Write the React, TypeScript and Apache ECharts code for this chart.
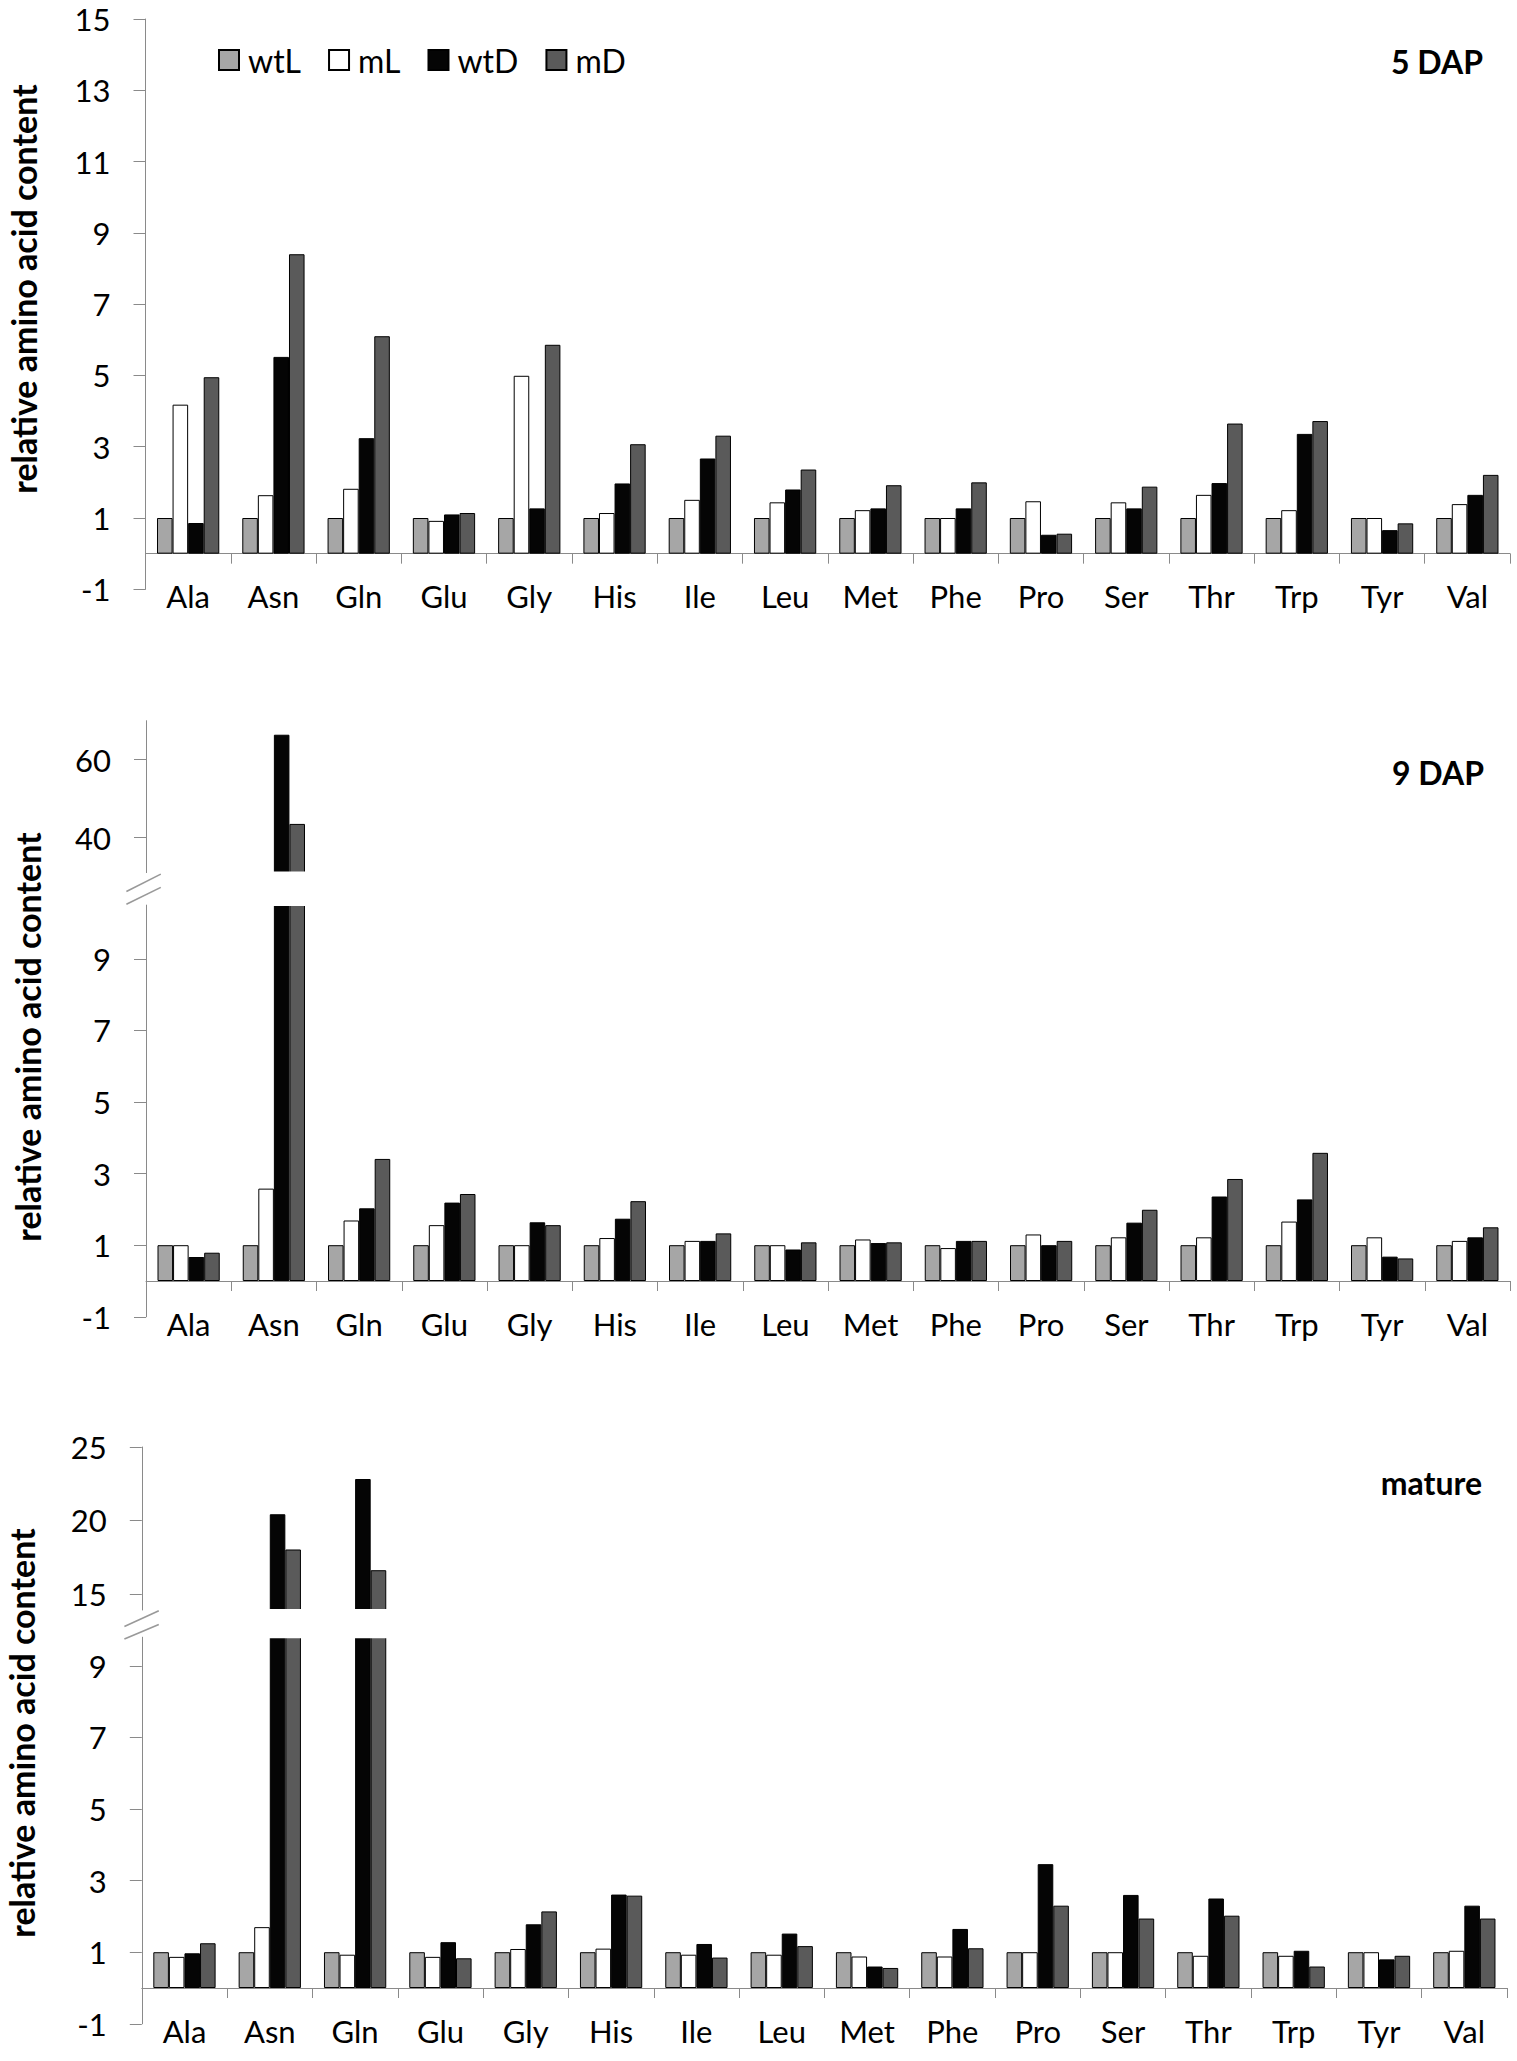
import React, { useEffect, useRef } from "react";
import * as echarts from "echarts";

// ---------- data ----------
const CATEGORIES = ["Ala", "Asn", "Gln", "Glu", "Gly", "His", "Ile", "Leu", "Met", "Phe", "Pro", "Ser", "Thr", "Trp", "Tyr", "Val"];
const SERIES_NAMES = ["wtL", "mL", "wtD", "mD"];
const PANEL_TITLES = ["5 DAP", "9 DAP", "mature"];
const Y_TITLE = "relative amino acid content";

// 5 DAP
const DAP5_WTL = [1, 1, 1, 1, 1, 1, 1, 1, 1, 1, 1, 1, 1, 1, 1, 1];
const DAP5_ML = [4.18, 1.64, 1.82, 0.92, 4.99, 1.14, 1.51, 1.44, 1.22, 1.0, 1.47, 1.44, 1.65, 1.22, 1.0, 1.39];
const DAP5_WTD = [0.86, 5.52, 3.24, 1.1, 1.27, 1.97, 2.67, 1.8, 1.27, 1.27, 0.53, 1.27, 1.98, 3.36, 0.66, 1.65];
const DAP5_MD = [4.95, 8.4, 6.1, 1.14, 5.86, 3.07, 3.31, 2.36, 1.92, 2.0, 0.56, 1.88, 3.65, 3.72, 0.85, 2.21];

// 9 DAP
const DAP9_WTL = [1, 1, 1, 1, 1, 1, 1, 1, 1, 1, 1, 1, 1, 1, 1, 1];
const DAP9_ML = [1.0, 2.58, 1.69, 1.56, 1.0, 1.2, 1.12, 1.0, 1.16, 0.92, 1.3, 1.22, 1.22, 1.66, 1.22, 1.12];
const DAP9_WTD = [0.67, 66.4, 2.03, 2.19, 1.64, 1.74, 1.12, 0.88, 1.06, 1.12, 1.0, 1.63, 2.36, 2.28, 0.68, 1.22];
const DAP9_MD = [0.79, 43.5, 3.41, 2.43, 1.56, 2.23, 1.33, 1.08, 1.08, 1.12, 1.12, 1.99, 2.85, 3.58, 0.63, 1.5];

// mature
const MAT_WTL = [1, 1, 1, 1, 1, 1, 1, 1, 1, 1, 1, 1, 1, 1, 1, 1];
const MAT_ML = [0.87, 1.7, 0.93, 0.87, 1.09, 1.1, 0.93, 0.93, 0.88, 0.88, 1.0, 1.0, 0.9, 0.9, 1.0, 1.04];
const MAT_WTD = [0.97, 20.42, 22.82, 1.28, 1.78, 2.61, 1.23, 1.52, 0.6, 1.65, 3.46, 2.6, 2.5, 1.04, 0.8, 2.3];
const MAT_MD = [1.25, 18.02, 16.61, 0.83, 2.14, 2.58, 0.85, 1.17, 0.56, 1.11, 2.3, 1.94, 2.02, 0.6, 0.9, 1.94];

// tick labels
const TICKS_5DAP = [-1, 1, 3, 5, 7, 9, 11, 13, 15];
const TICKS_LOWER = [-1, 1, 3, 5, 7, 9];
const TICKS_9DAP_UPPER = [40, 60];
const TICKS_MAT_UPPER = [15, 20, 25];

// ---------- style / layout ----------
const W = 1517;
const H = 2061;
const FONT = "Lato, 'Open Sans', sans-serif";
const AXIS_GREY = "#8a8a8a";
const COLORS = ["#a6a6a6", "#ffffff", "#050505", "#5a5a5a"];

type Panel = {
  left: number; right: number; top: number; bottom: number;
  min: number; max: number; ticks: number[]; showX: boolean; series: number[][];
};

const PANELS: Panel[] = [
  { left: 145.5, right: 1510, top: 19, bottom: 589.3, min: -1, max: 15, ticks: TICKS_5DAP, showX: true, series: [DAP5_WTL, DAP5_ML, DAP5_WTD, DAP5_MD] },
  { left: 146, right: 1510, top: 720.7, bottom: 872.6, min: 31, max: 70, ticks: TICKS_9DAP_UPPER, showX: false, series: [DAP9_WTL, DAP9_ML, DAP9_WTD, DAP9_MD] },
  { left: 146, right: 1510, top: 905.1, bottom: 1316.8, min: -1, max: 10.5, ticks: TICKS_LOWER, showX: true, series: [DAP9_WTL, DAP9_ML, DAP9_WTD, DAP9_MD] },
  { left: 141.8, right: 1507, top: 1447, bottom: 1610, min: 13.9, max: 25, ticks: TICKS_MAT_UPPER, showX: false, series: [MAT_WTL, MAT_ML, MAT_WTD, MAT_MD] },
  { left: 141.8, right: 1507, top: 1637.2, bottom: 2023.8, min: -1, max: 9.8, ticks: TICKS_LOWER, showX: true, series: [MAT_WTL, MAT_ML, MAT_WTD, MAT_MD] },
];

function buildOption() {
  const grid = PANELS.map((p) => ({
    left: p.left,
    top: p.top,
    width: p.right - p.left,
    height: p.bottom - p.top,
    containLabel: false,
    outerBoundsMode: "none",
  }));

  const xAxis = PANELS.map((p, i) => ({
    type: "category",
    gridIndex: i,
    data: CATEGORIES,
    show: p.showX,
    boundaryGap: true,
    axisLine: { show: true, onZero: true, lineStyle: { color: AXIS_GREY, width: 1 } },
    axisTick: { show: true, length: 10, inside: false, lineStyle: { color: AXIS_GREY, width: 1 } },
    axisLabel: { show: true, interval: 0, margin: -6, fontSize: 31, lineHeight: 26, color: "#000", fontFamily: FONT },
    splitLine: { show: false },
  }));

  const yAxis = PANELS.map((p, i) => ({
    type: "value",
    gridIndex: i,
    min: p.min,
    max: p.max,
    axisLine: { show: true, lineStyle: { color: AXIS_GREY, width: 1 } },
    axisTick: { show: true, length: 12, inside: false, customValues: p.ticks, lineStyle: { color: AXIS_GREY, width: 1 } },
    axisLabel: { show: true, margin: 35, customValues: p.ticks, fontSize: 31, lineHeight: 24, color: "#000", fontFamily: FONT },
    splitLine: { show: false },
  }));

  const series: any[] = [];
  PANELS.forEach((p, i) => {
    p.series.forEach((vals, k) => {
      series.push({
        type: "bar",
        name: SERIES_NAMES[k],
        xAxisIndex: i,
        yAxisIndex: i,
        barGap: "0%",
        barCategoryGap: "27%",
        clip: true,
        data: vals.map((v) => (p.min > 0 && v <= p.min ? null : v)),
        itemStyle: { color: COLORS[k], borderColor: "#000", borderWidth: 1 },
        emphasis: { disabled: true },
      });
    });
  });

  const titleX = [1483, 1484, 1482];
  const titleY = [61.5, 772, 1482.5];
  const yTitleX = [23, 27, 21];
  const yTitleY = [289, 1037, 1733];

  const graphic: any[] = [];
  PANEL_TITLES.forEach((t, i) => {
    graphic.push({
      type: "text",
      x: titleX[i],
      y: titleY[i],
      z: 100,
      style: { text: t, fill: "#000", font: `bold 32px ${FONT}`, textAlign: "right", textVerticalAlign: "middle" },
    });
    graphic.push({
      type: "text",
      x: yTitleX[i],
      y: yTitleY[i],
      rotation: Math.PI / 2,
      z: 100,
      style: { text: Y_TITLE, fill: "#000", font: `bold 34px ${FONT}`, textAlign: "center", textVerticalAlign: "middle" },
    });
  });

  // axis breaks: white cover over cut bar edges + slanted break marks
  const breaks = [
    { upper: PANELS[1], lower: PANELS[2], l1: [126.4, 891.5, 160.8, 874.1], l2: [126.4, 904.3, 160.8, 887.4] },
    { upper: PANELS[3], lower: PANELS[4], l1: [124.4, 1626.5, 158.8, 1610.8], l2: [124.4, 1639, 158.8, 1624.5] },
  ];
  breaks.forEach((b) => {
    graphic.push({
      type: "rect",
      z: 90,
      shape: { x: b.upper.left + 1.5, y: b.upper.bottom - 1, width: b.upper.right - b.upper.left - 1, height: b.lower.top - b.upper.bottom + 2 },
      style: { fill: "#fff" },
    });
    [b.l1, b.l2].forEach((l) => {
      graphic.push({
        type: "line",
        z: 95,
        shape: { x1: l[0], y1: l[1], x2: l[2], y2: l[3] },
        style: { stroke: "#999", lineWidth: 1.6 },
      });
    });
  });

  return {
    animation: false,
    backgroundColor: "#fff",
    grid,
    xAxis,
    yAxis,
    legend: {
      data: SERIES_NAMES,
      left: 218,
      top: 44,
      padding: 0,
      icon: "rect",
      itemWidth: 20,
      itemHeight: 20,
      itemGap: 27,
      selectedMode: false,
      textStyle: { fontSize: 32, color: "#000", fontFamily: FONT, padding: [0, 0, 0, 4] },
    },
    series,
    graphic,
  };
}

export default function App() {
  const ref = useRef<HTMLDivElement>(null);
  useEffect(() => {
    if (!ref.current) return;
    const chart = echarts.init(ref.current, undefined, { renderer: "svg", width: W, height: H });
    chart.setOption(buildOption() as any);
    return () => chart.dispose();
  }, []);
  return <div ref={ref} style={{ position: "absolute", left: 0, top: 0, width: W, height: H, background: "#fff" }} />;
}
